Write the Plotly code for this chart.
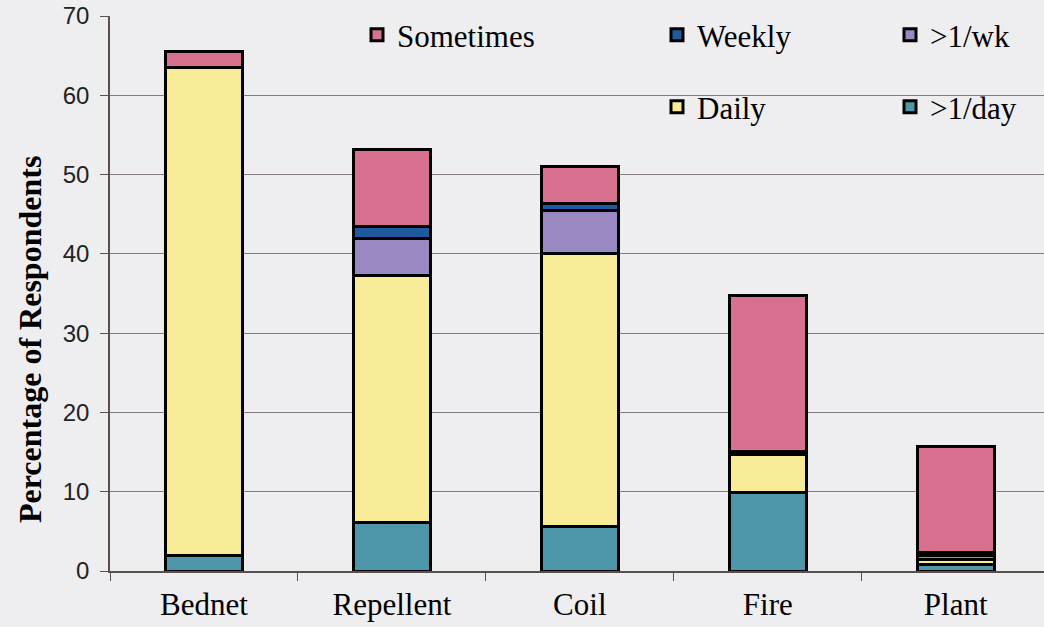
import plotly.graph_objects as go

categories = ["Bednet", "Repellent", "Coil", "Fire", "Plant"]

# stacked from bottom to top
per_day = [1.9, 6.1, 5.6, 9.9, 0.8]      # >1/day
daily = [61.6, 31.2, 34.4, 4.8, 0.7]     # Daily
per_week = [0.0, 4.7, 5.5, 0.0, 0.5]     # >1/wk
weekly = [0.0, 1.4, 0.9, 0.4, 0.3]       # Weekly
sometimes = [2.0, 9.7, 4.6, 19.7, 13.4]  # Sometimes

series = [
    (">1/day", per_day, "#4E97AA", "legend5"),
    ("Daily", daily, "#F8EC98", "legend4"),
    (">1/wk", per_week, "#9A88C2", "legend3"),
    ("Weekly", weekly, "#1F5A9E", "legend2"),
    ("Sometimes", sometimes, "#D8708F", "legend"),
]

W, H = 1044, 627
ML, MR, MT, MB = 110, 0, 16, 56
PW, PH = W - ML - MR, H - MT - MB
BG = "#EEEDF0"

fig = go.Figure()
for name, vals, color, lg in series:
    fig.add_trace(go.Bar(
        x=categories, y=vals, name=name, legend=lg,
        marker=dict(color=color, line=dict(color="black", width=3)),
        width=0.41,
    ))

serif = "Liberation Serif, Times New Roman, serif"

def leg(xpx, ypx):
    return dict(
        x=(xpx - ML) / PW, y=(H - MB - ypx) / PH, xref="paper", yref="paper",
        xanchor="left", yanchor="middle", orientation="v",
        bgcolor="rgba(0,0,0,0)", borderwidth=0,
        font=dict(family=serif, size=31, color="black"),
    )

fig.update_layout(
    width=W, height=H,
    paper_bgcolor=BG, plot_bgcolor=BG,
    barmode="stack",
    margin=dict(l=ML, r=MR, t=MT, b=MB, autoexpand=False),
    legend=leg(357, 35),
    legend2=leg(657, 35),
    legend3=leg(890, 35),
    legend4=leg(657, 107),
    legend5=leg(890, 107),
    showlegend=True,
    annotations=[dict(
        text="<b>Percentage of Respondents</b>", textangle=-90,
        xref="paper", yref="paper", x=(30 - ML) / PW, y=(H - MB - 340) / PH,
        xanchor="center", yanchor="middle", showarrow=False,
        font=dict(family=serif, size=32, color="black"),
    )],
)

fig.update_xaxes(
    range=[-0.5, 4.47],
    showline=True, linecolor="#5a5050", linewidth=1.5,
    ticks="outside", tickson="boundaries", ticklen=8, tickcolor="#5a5050",
    tickfont=dict(family=serif, size=31, color="black"),
    ticklabelstandoff=5, tickangle=0,
    showgrid=False, automargin=False,
)
fig.update_yaxes(
    range=[0, 70], dtick=10,
    showline=True, linecolor="#5a5050", linewidth=1.5,
    ticks="outside", ticklen=8, tickcolor="#5a5050",
    tickfont=dict(family="Liberation Sans, Arial, sans-serif", size=24, color="#222"),
    ticklabelstandoff=6,
    showgrid=True, gridcolor="#857a85", gridwidth=1.2,
    zeroline=False, automargin=False,
)

fig.write_html("out.html", config={"displayModeBar": False},
               post_script="document.body.style.margin='0';")
